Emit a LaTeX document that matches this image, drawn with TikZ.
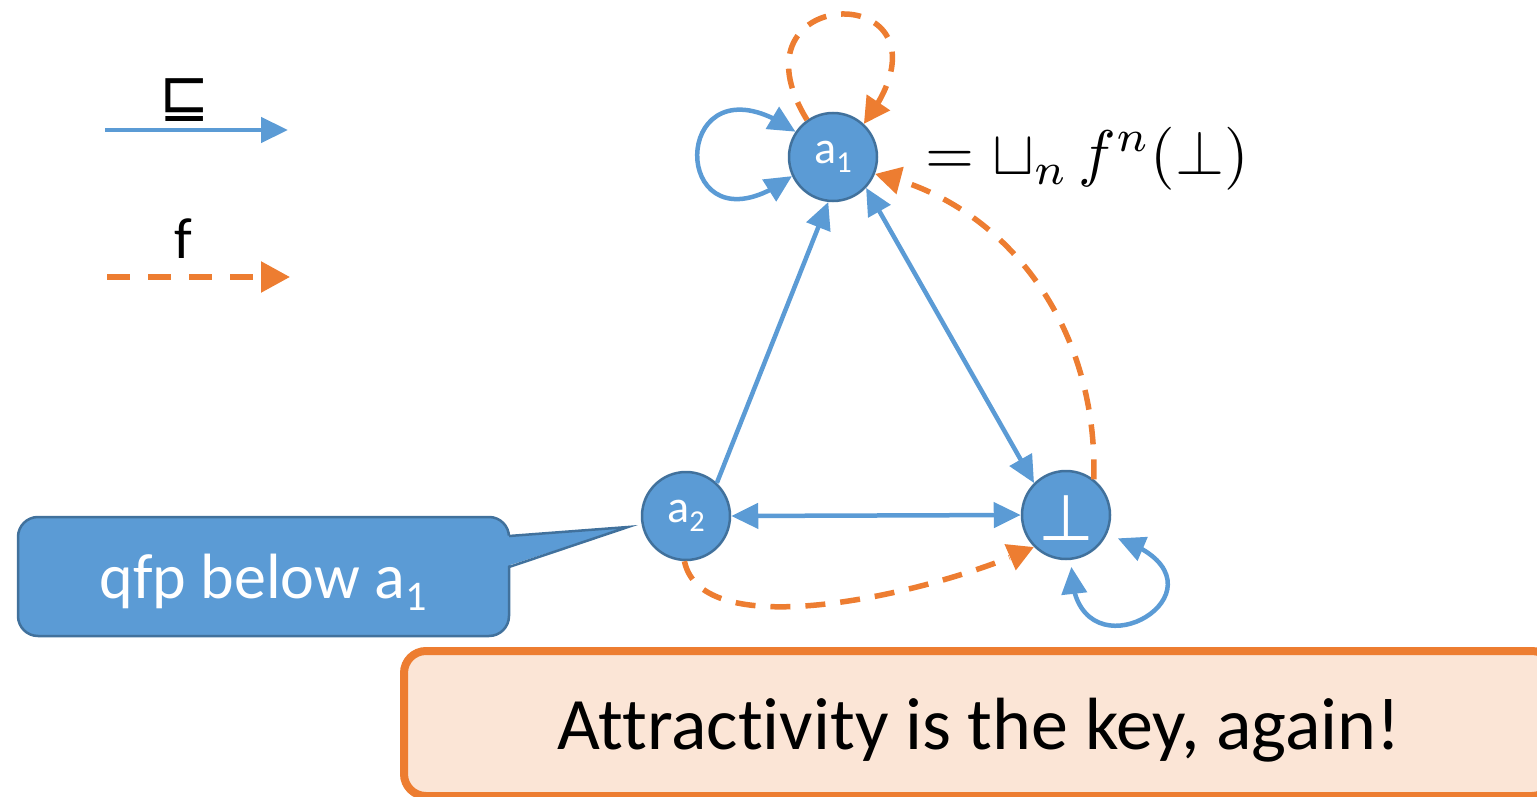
\documentclass[tikz,border=0pt]{standalone}
\usepackage{fontspec}
\setmainfont{Carlito}[Ligatures=NoCommon]
\newfontfamily\symfont{DejaVu Sans}
\usepackage{graphicx}
\usetikzlibrary{arrows.meta,bending}
\definecolor{nblue}{HTML}{5B9BD5}
\definecolor{nborder}{HTML}{41719C}
\definecolor{norange}{HTML}{ED7D31}
\definecolor{lpeach}{HTML}{FBE5D6}
\newcommand\mysub[1]{\raisebox{-0.2em}{\scalebox{0.66}{#1}}}
\tikzset{
  bh/.tip={Triangle[length=27pt,width=25pt,flex]},
  oh/.tip={Triangle[length=26pt,width=27pt,flex]},
}
\begin{document}
\begin{tikzpicture}[x=1pt,y=-1pt,
  state/.style={circle, fill=nblue, draw=nborder, line width=2.5pt, minimum size=88pt, inner sep=0pt, text=white, font=\fontsize{46}{50}\selectfont},
  leqline/.style={draw=nblue, line width=4.5pt},
  fline/.style={draw=norange, line width=5.5pt, dash pattern=on 20pt off 15pt},
  legtext/.style={font=\fontsize{58}{62}\selectfont},
]
\useasboundingbox (0,0) rectangle (1537,797);

% legend
\coordinate (lbs) at (105,130);
\coordinate (lbe) at (288,130);
\coordinate (los) at (107,277);
\coordinate (loe) at (290,277);
\draw[leqline, -{Triangle[length=27pt,width=25pt]}] (lbs) -- (lbe);
\draw[fline, dash pattern=on 23pt off 18pt, -{Triangle[length=29pt,width=30pt]}] (los) -- (loe);
\node[anchor=base, font=\symfont\fontsize{60}{64}\selectfont, inner sep=0pt] (lsym) at (185,117) {⊑};
\node[legtext, anchor=base] (lf) at (183,258) {f};

% states
\node[state] (a1) at (833,157) {a\mysub{1}};
\node[state] (a2) at (686,516) {a\mysub{2}};
\node[state] (bot) at (1066,515) {};
\node[anchor=base, text=white, font=\symfont\fontsize{64}{66}\selectfont, inner sep=0pt] (botsym) at (1066,540) {⊥};

\node[anchor=west] (eq) at (922,159) {\scalebox{6.3}{$=\sqcup_n\, f^n(\bot)$}};

% order edges
\draw[leqline, -{bh}] (a2.47) -- (a1.264);
\draw[leqline, {bh}-{bh}] (a1.-43) -- (bot.135);
\draw[leqline, {bh}-{bh}] (a2.east) -- (bot.west);
\draw[leqline, {bh}-{bh}] (a1.146) .. controls (665,40) and (665,270) .. (a1.205);
\draw[leqline, {bh}-{bh}, shorten <=7pt, shorten >=12pt] (bot.-83) .. controls (1065,700) and (1265,580) .. (bot.-26);

% f edges
\draw[fline, -{oh}] (bot.52) .. controls (1098,320) and (1000,200) .. (a1.-22);
\draw[fline, -{oh}] (a2.-92) .. controls (703,650) and (946,589) .. (bot.225);
\draw[fline, -{oh}] (a1.125) .. controls (720,-22) and (975,-22) .. (a1.47);

% callout
\node[fill=nblue, draw=nborder, line width=2.5pt, rounded corners=20pt, minimum width=491pt, minimum height=119pt] (qfp) at (263.5,576.5) {};
\coordinate (tip) at (628,527);
\coordinate (tt) at (509,536);
\coordinate (tb) at (509,567);
\fill[nblue] ([xshift=-5pt]tt) -- (tip) -- ([xshift=-5pt]tb) -- cycle;
\draw[nborder, line width=2.5pt, line join=miter] (tt) -- (tip) -- (tb);
\node[anchor=base, text=white, font=\fontsize{64}{68}\selectfont] (qfptext) at (263,598) {qfp below a\mysub{1}};

% message box
\node[fill=lpeach, draw=norange, line width=8pt, rounded corners=22pt, minimum width=1150pt, minimum height=145pt] (msg) at (979,723.5) {};
\node[anchor=base, font=\fontsize{74}{80}\selectfont] (msgtext) at (979,749) {Attractivity is the key, again!};
\end{tikzpicture}
\end{document}
